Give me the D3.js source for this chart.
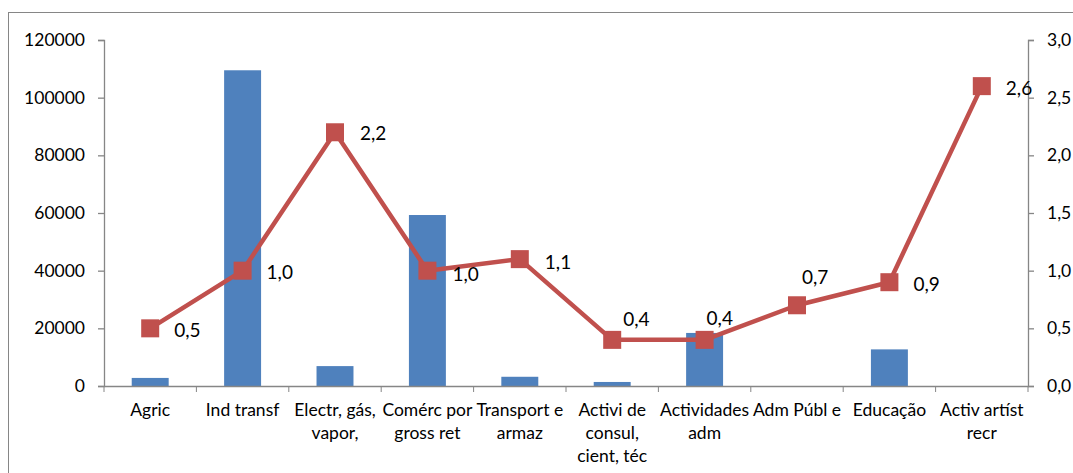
<!DOCTYPE html>
<html>
<head>
<meta charset="utf-8">
<script src="https://cdnjs.cloudflare.com/ajax/libs/d3/7.8.5/d3.min.js"></script>
<style>
  body { margin: 0; background: #fff; }
  svg text { font-family: Lato, "Open Sans", sans-serif; fill: #000; }
</style>
</head>
<body>
<div id="chart"></div>
<script>
// chart data
const categories = ["Agric", "Ind transf", "Electr, gás,\nvapor,", "Comérc por\ngross ret", "Transport e\narmaz",
    "Activi de\nconsul,\ncient, téc", "Actividades\nadm", "Adm Públ e", "Educação", "Activ artíst\nrecr"];
const barValues = [2800, 109500, 6900, 59300, 3200, 1400, 18400, 0, 12700, 0];
const lineValues = [0.5, 1.0, 2.2, 1.0, 1.1, 0.4, 0.4, 0.7, 0.9, 2.6];
const leftTicks = [0, 20000, 40000, 60000, 80000, 100000, 120000];
const rightTicks = [0, 0.5, 1.0, 1.5, 2.0, 2.5, 3.0];
// label nudges (as placed in the original chart), relative to marker
const labelNudge = [[24, 2], [24, 2], [25, 1], [25, 4], [25, 3], [11, -21], [2, -22], [5, -28], [24, 2], [24, 2]];

let W = 1073, H = 473;
let margin = {top: 40, right: 45, bottom: 87, left: 104};
let width = W - margin.left - margin.right;
let height = H - margin.top - margin.bottom;

let svg = d3.select("#chart").append("svg")
    .attr("width", W)
    .attr("height", H);

// outer frame
svg.append("rect")
    .attr("x", 8.5).attr("y", 12.5)
    .attr("width", W + 20).attr("height", H + 20)
    .attr("fill", "none")
    .attr("stroke", "#868686")
    .attr("stroke-width", 1);

let g = svg.append("g").attr("transform", "translate(" + margin.left + "," + margin.top + ")");

let x = d3.scaleBand().domain(categories).range([0, width]).paddingInner(0.6).paddingOuter(0.3);
let xb = d3.scaleBand().domain(categories).range([0, width]);
let y = d3.scaleLinear().domain([0, 120000]).range([height, 0]);
let y2 = d3.scaleLinear().domain([0, 3]).range([height, 0]);

let axisColor = "#868686";
let fmt2 = v => d3.format(".1f")(v).replace(".", ",");

// bars
g.selectAll("rect.bar")
    .data(barValues)
    .enter().append("rect")
    .attr("class", "bar")
    .attr("x", (d, i) => x(categories[i]))
    .attr("y", d => y(d))
    .attr("width", x.bandwidth())
    .attr("height", d => height - y(d))
    .attr("fill", "#4F81BD");

// left axis
let yAxis = g.append("g")
    .call(d3.axisLeft(y).tickValues(leftTicks).tickSize(6).tickPadding(13).tickFormat(d3.format("d")));
// right axis
let yAxis2 = g.append("g")
    .attr("transform", "translate(" + width + ",0)")
    .call(d3.axisRight(y2).tickValues(rightTicks).tickSize(6).tickPadding(13).tickFormat(fmt2));
// bottom axis
let xAxis = g.append("g")
    .attr("transform", "translate(0," + height + ")")
    .call(d3.axisBottom(xb).tickSize(0).tickFormat(""));
xAxis.selectAll(".cat-tick")
    .data(d3.range(categories.length + 1))
    .enter().append("line")
    .attr("class", "cat-tick")
    .attr("x1", i => i * xb.step()).attr("x2", i => i * xb.step())
    .attr("y1", 0).attr("y2", 6)
    .attr("stroke", axisColor);

[yAxis, yAxis2, xAxis].forEach(a => {
    a.select(".domain").attr("stroke", axisColor).attr("stroke-width", 1.3);
    a.selectAll(".tick line").attr("stroke", axisColor).attr("stroke-width", 1.3);
    a.selectAll(".tick text").attr("font-size", "17.5px").attr("fill", "#000")
        .style("font-family", "Lato, sans-serif");
});

// category labels
g.append("g")
    .selectAll("text")
    .data(categories)
    .enter().append("text")
    .attr("text-anchor", "middle")
    .attr("font-size", "17.5px")
    .attr("transform", d => "translate(" + (xb(d) + xb.bandwidth() / 2) + "," + (height + 30) + ")")
    .selectAll("tspan")
    .data(d => d.split("\n"))
    .enter().append("tspan")
    .attr("x", 0)
    .attr("y", (d, i) => i * 23)
    .text(d => d);

// line
let cx = i => xb(categories[i]) + xb.bandwidth() / 2;
g.append("path")
    .datum(lineValues)
    .attr("fill", "none")
    .attr("stroke", "#C0504D")
    .attr("stroke-width", 4.5)
    .attr("stroke-linejoin", "round")
    .attr("d", d3.line().x((d, i) => cx(i)).y(d => y2(d)));

let ms = 18;
g.selectAll("rect.marker")
    .data(lineValues)
    .enter().append("rect")
    .attr("class", "marker")
    .attr("x", (d, i) => cx(i) - ms / 2)
    .attr("y", d => y2(d) - ms / 2)
    .attr("width", ms)
    .attr("height", ms)
    .attr("fill", "#C0504D");

g.selectAll("text.lbl")
    .data(lineValues)
    .enter().append("text")
    .attr("class", "lbl")
    .attr("font-size", "19px")
    .attr("dy", "0.35em")
    .attr("x", (d, i) => cx(i) + labelNudge[i][0])
    .attr("y", (d, i) => y2(d) + labelNudge[i][1])
    .text(d => fmt2(d));
</script>
</body>
</html>
